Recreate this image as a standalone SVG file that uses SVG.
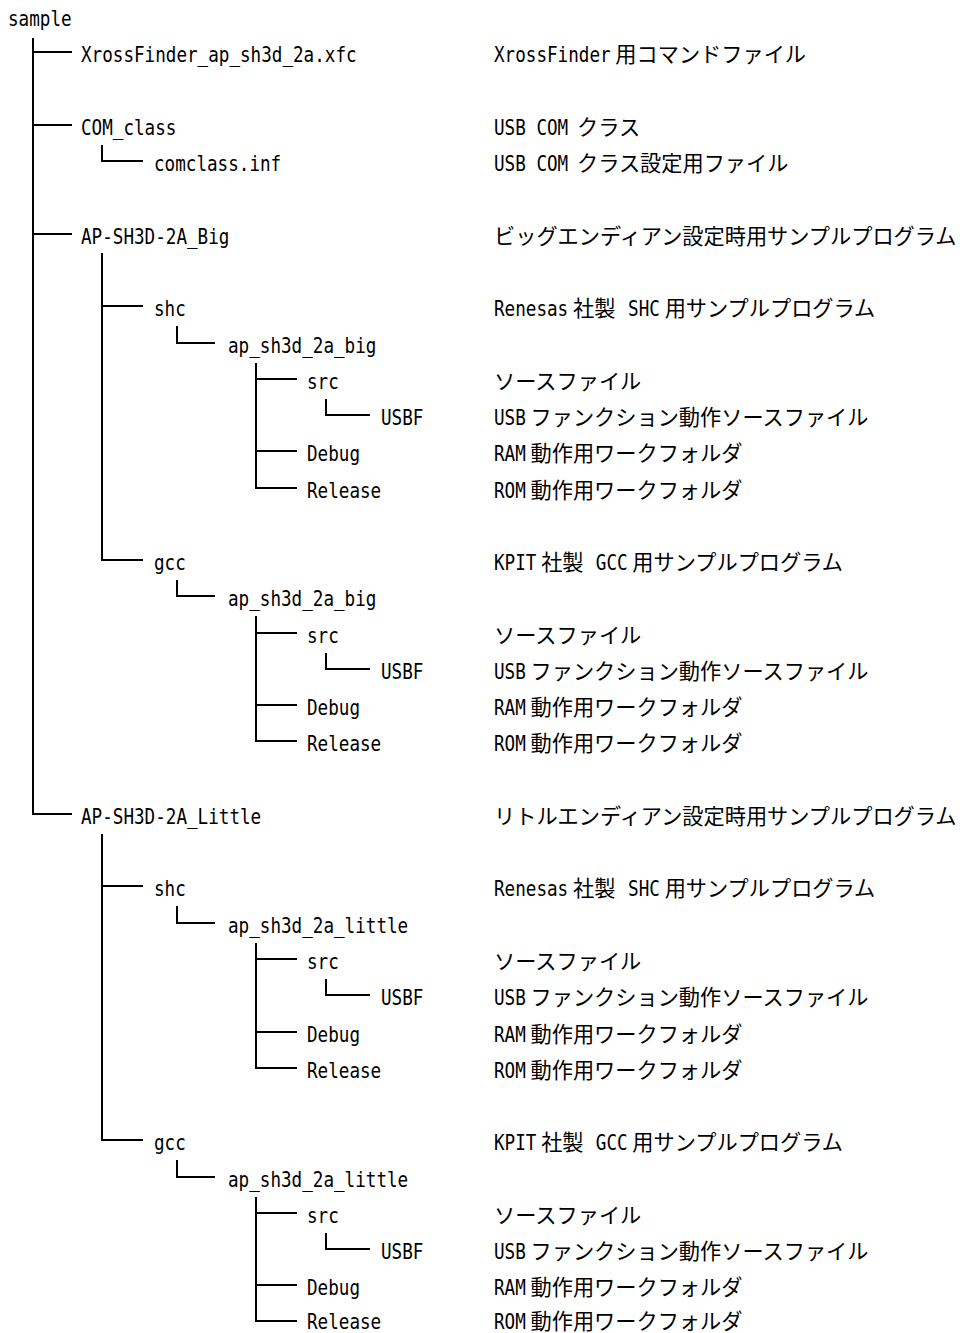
<svg xmlns="http://www.w3.org/2000/svg" width="966" height="1333" viewBox="0 0 966 1333">
<style>
text{font-size:21.2px;fill:#000}
.a{font-family:"DejaVu Sans Mono","Liberation Mono",monospace}
.d{font-family:"Noto Sans CJK JP",sans-serif}
.d tspan.a{font-family:"DejaVu Sans Mono","Liberation Mono",monospace}
#connectors path{fill:none;stroke:#000;stroke-width:2}
</style>
<rect width="966" height="1333" fill="#fff"/>
<g id="connectors">
<path d="M33 38V814H72M33 52H72M33 125H72M33 234H72"/>
<path d="M102 145V161H143"/>
<path d="M102 253V560H143M102 306H143"/>
<path d="M177 326V343H215"/>
<path d="M256 363V488H297M256 379H297M256 451H297"/>
<path d="M326 399V415H370"/>
<path d="M177 580V596H215"/>
<path d="M256 616V741H297M256 633H297M256 705H297"/>
<path d="M326 653V669H370"/>
<path d="M102 834V1140H143M102 886H143"/>
<path d="M177 906V923H215"/>
<path d="M256 943V1068H297M256 959H297M256 1032H297"/>
<path d="M326 979V995H370"/>
<path d="M177 1160V1177H215"/>
<path d="M256 1197V1321H297M256 1213H297M256 1285H297"/>
<path d="M326 1233V1249H370"/>
</g>
<g id="n-sample"><text class="a" x="8" y="26" textLength="63.6" lengthAdjust="spacingAndGlyphs">sample</text></g>
<g id="n-xfc">
<text class="a" x="81" y="62" textLength="275.6" lengthAdjust="spacingAndGlyphs">XrossFinder_ap_sh3d_2a.xfc</text>
<text class="d" x="494" y="62"><tspan class="a" textLength="116.6" lengthAdjust="spacingAndGlyphs">XrossFinder</tspan> <tspan>用コマンドファイル</tspan></text>
</g>
<g id="n-comclass">
<text class="a" x="81" y="135" textLength="95.4" lengthAdjust="spacingAndGlyphs">COM_class</text>
<text class="d" x="494" y="135"><tspan class="a" textLength="74.2" lengthAdjust="spacingAndGlyphs">USB COM</tspan> <tspan dx="4">クラス</tspan></text>
</g>
<g id="n-inf">
<text class="a" x="154" y="171" textLength="127.2" lengthAdjust="spacingAndGlyphs">comclass.inf</text>
<text class="d" x="494" y="171"><tspan class="a" textLength="74.2" lengthAdjust="spacingAndGlyphs">USB COM</tspan> <tspan dx="4">クラス設定用ファイル</tspan></text>
</g>
<g id="n-big">
<text class="a" x="81" y="244" textLength="148.4" lengthAdjust="spacingAndGlyphs">AP-SH3D-2A_Big</text>
<text class="d" x="494" y="244">ビッグエンディアン設定時用サンプルプログラム</text>
</g>
<g id="n-big-shc">
<text class="a" x="154" y="316" textLength="31.8" lengthAdjust="spacingAndGlyphs">shc</text>
<text class="d" x="494" y="316"><tspan class="a" textLength="74.2" lengthAdjust="spacingAndGlyphs">Renesas</tspan> <tspan>社製</tspan> <tspan class="a" dx="8" textLength="31.8" lengthAdjust="spacingAndGlyphs">SHC</tspan> <tspan>用サンプルプログラム</tspan></text>
</g>
<g id="n-big-shc-ap"><text class="a" x="228" y="353" textLength="148.4" lengthAdjust="spacingAndGlyphs">ap_sh3d_2a_big</text></g>
<g id="n-big-shc-src">
<text class="a" x="307" y="389" textLength="31.8" lengthAdjust="spacingAndGlyphs">src</text>
<text class="d" x="494" y="389">ソースファイル</text>
</g>
<g id="n-big-shc-usbf">
<text class="a" x="381" y="425" textLength="42.4" lengthAdjust="spacingAndGlyphs">USBF</text>
<text class="d" x="494" y="425"><tspan class="a" textLength="31.8" lengthAdjust="spacingAndGlyphs">USB</tspan> <tspan>ファンクション動作ソースファイル</tspan></text>
</g>
<g id="n-big-shc-debug">
<text class="a" x="307" y="461" textLength="53" lengthAdjust="spacingAndGlyphs">Debug</text>
<text class="d" x="494" y="461"><tspan class="a" textLength="31.8" lengthAdjust="spacingAndGlyphs">RAM</tspan> <tspan>動作用ワークフォルダ</tspan></text>
</g>
<g id="n-big-shc-release">
<text class="a" x="307" y="498" textLength="74.2" lengthAdjust="spacingAndGlyphs">Release</text>
<text class="d" x="494" y="498"><tspan class="a" textLength="31.8" lengthAdjust="spacingAndGlyphs">ROM</tspan> <tspan>動作用ワークフォルダ</tspan></text>
</g>
<g id="n-big-gcc">
<text class="a" x="154" y="570" textLength="31.8" lengthAdjust="spacingAndGlyphs">gcc</text>
<text class="d" x="494" y="570"><tspan class="a" textLength="42.4" lengthAdjust="spacingAndGlyphs">KPIT</tspan> <tspan>社製</tspan> <tspan class="a" dx="7.5" textLength="31.8" lengthAdjust="spacingAndGlyphs">GCC</tspan> <tspan>用サンプルプログラム</tspan></text>
</g>
<g id="n-big-gcc-ap"><text class="a" x="228" y="606" textLength="148.4" lengthAdjust="spacingAndGlyphs">ap_sh3d_2a_big</text></g>
<g id="n-big-gcc-src">
<text class="a" x="307" y="643" textLength="31.8" lengthAdjust="spacingAndGlyphs">src</text>
<text class="d" x="494" y="643">ソースファイル</text>
</g>
<g id="n-big-gcc-usbf">
<text class="a" x="381" y="679" textLength="42.4" lengthAdjust="spacingAndGlyphs">USBF</text>
<text class="d" x="494" y="679"><tspan class="a" textLength="31.8" lengthAdjust="spacingAndGlyphs">USB</tspan> <tspan>ファンクション動作ソースファイル</tspan></text>
</g>
<g id="n-big-gcc-debug">
<text class="a" x="307" y="715" textLength="53" lengthAdjust="spacingAndGlyphs">Debug</text>
<text class="d" x="494" y="715"><tspan class="a" textLength="31.8" lengthAdjust="spacingAndGlyphs">RAM</tspan> <tspan>動作用ワークフォルダ</tspan></text>
</g>
<g id="n-big-gcc-release">
<text class="a" x="307" y="751" textLength="74.2" lengthAdjust="spacingAndGlyphs">Release</text>
<text class="d" x="494" y="751"><tspan class="a" textLength="31.8" lengthAdjust="spacingAndGlyphs">ROM</tspan> <tspan>動作用ワークフォルダ</tspan></text>
</g>
<g id="n-little">
<text class="a" x="81" y="824" textLength="180.2" lengthAdjust="spacingAndGlyphs">AP-SH3D-2A_Little</text>
<text class="d" x="494" y="824">リトルエンディアン設定時用サンプルプログラム</text>
</g>
<g id="n-little-shc">
<text class="a" x="154" y="896" textLength="31.8" lengthAdjust="spacingAndGlyphs">shc</text>
<text class="d" x="494" y="896"><tspan class="a" textLength="74.2" lengthAdjust="spacingAndGlyphs">Renesas</tspan> <tspan>社製</tspan> <tspan class="a" dx="8" textLength="31.8" lengthAdjust="spacingAndGlyphs">SHC</tspan> <tspan>用サンプルプログラム</tspan></text>
</g>
<g id="n-little-shc-ap"><text class="a" x="228" y="933" textLength="180.2" lengthAdjust="spacingAndGlyphs">ap_sh3d_2a_little</text></g>
<g id="n-little-shc-src">
<text class="a" x="307" y="969" textLength="31.8" lengthAdjust="spacingAndGlyphs">src</text>
<text class="d" x="494" y="969">ソースファイル</text>
</g>
<g id="n-little-shc-usbf">
<text class="a" x="381" y="1005" textLength="42.4" lengthAdjust="spacingAndGlyphs">USBF</text>
<text class="d" x="494" y="1005"><tspan class="a" textLength="31.8" lengthAdjust="spacingAndGlyphs">USB</tspan> <tspan>ファンクション動作ソースファイル</tspan></text>
</g>
<g id="n-little-shc-debug">
<text class="a" x="307" y="1042" textLength="53" lengthAdjust="spacingAndGlyphs">Debug</text>
<text class="d" x="494" y="1042"><tspan class="a" textLength="31.8" lengthAdjust="spacingAndGlyphs">RAM</tspan> <tspan>動作用ワークフォルダ</tspan></text>
</g>
<g id="n-little-shc-release">
<text class="a" x="307" y="1078" textLength="74.2" lengthAdjust="spacingAndGlyphs">Release</text>
<text class="d" x="494" y="1078"><tspan class="a" textLength="31.8" lengthAdjust="spacingAndGlyphs">ROM</tspan> <tspan>動作用ワークフォルダ</tspan></text>
</g>
<g id="n-little-gcc">
<text class="a" x="154" y="1150" textLength="31.8" lengthAdjust="spacingAndGlyphs">gcc</text>
<text class="d" x="494" y="1150"><tspan class="a" textLength="42.4" lengthAdjust="spacingAndGlyphs">KPIT</tspan> <tspan>社製</tspan> <tspan class="a" dx="7.5" textLength="31.8" lengthAdjust="spacingAndGlyphs">GCC</tspan> <tspan>用サンプルプログラム</tspan></text>
</g>
<g id="n-little-gcc-ap"><text class="a" x="228" y="1187" textLength="180.2" lengthAdjust="spacingAndGlyphs">ap_sh3d_2a_little</text></g>
<g id="n-little-gcc-src">
<text class="a" x="307" y="1223" textLength="31.8" lengthAdjust="spacingAndGlyphs">src</text>
<text class="d" x="494" y="1223">ソースファイル</text>
</g>
<g id="n-little-gcc-usbf">
<text class="a" x="381" y="1259" textLength="42.4" lengthAdjust="spacingAndGlyphs">USBF</text>
<text class="d" x="494" y="1259"><tspan class="a" textLength="31.8" lengthAdjust="spacingAndGlyphs">USB</tspan> <tspan>ファンクション動作ソースファイル</tspan></text>
</g>
<g id="n-little-gcc-debug">
<text class="a" x="307" y="1295" textLength="53" lengthAdjust="spacingAndGlyphs">Debug</text>
<text class="d" x="494" y="1295"><tspan class="a" textLength="31.8" lengthAdjust="spacingAndGlyphs">RAM</tspan> <tspan>動作用ワークフォルダ</tspan></text>
</g>
<g id="n-little-gcc-release">
<text class="a" x="307" y="1329" textLength="74.2" lengthAdjust="spacingAndGlyphs">Release</text>
<text class="d" x="494" y="1329"><tspan class="a" textLength="31.8" lengthAdjust="spacingAndGlyphs">ROM</tspan> <tspan>動作用ワークフォルダ</tspan></text>
</g>
</svg>
